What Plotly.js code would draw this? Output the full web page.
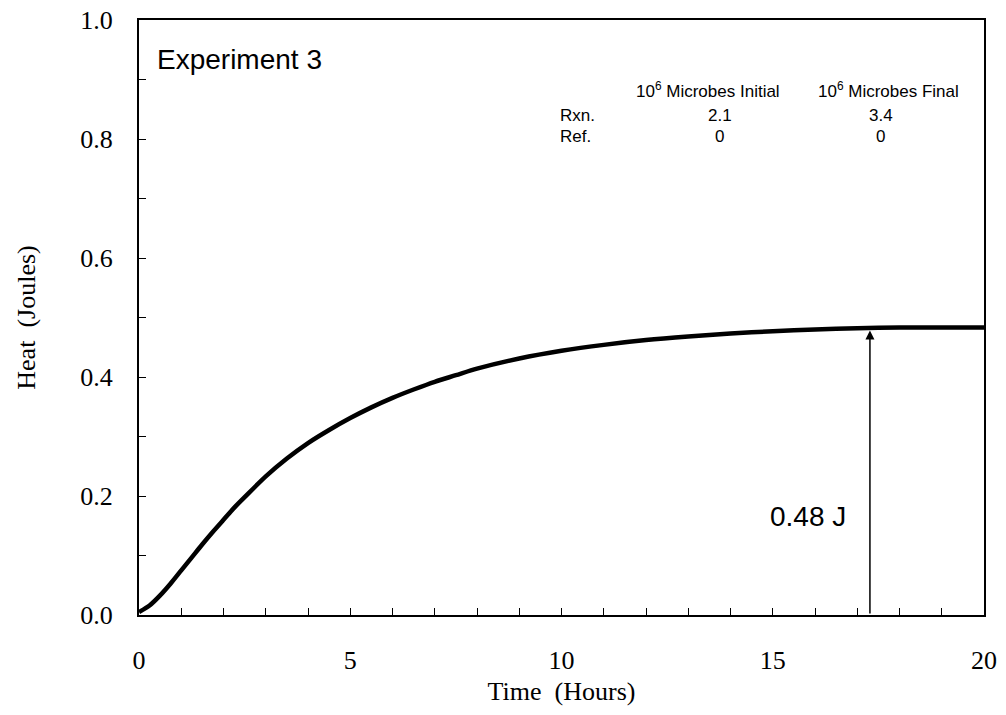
<!DOCTYPE html>
<html>
<head>
<meta charset="utf-8">
<script src="https://cdn.plot.ly/plotly-3.0.1.min.js"></script>
<style>
html,body{margin:0;padding:0;background:#fff;}
#chart{width:1006px;height:715px;}
</style>
</head>
<body>
<div id="chart"></div>
<script>
// Data
const timeHours = [0, 0.25, 0.5, 0.75, 1.0, 1.25, 1.5, 1.75, 2.0, 2.25, 2.5, 3.0, 3.5, 4.0, 4.5, 5.0, 5.5, 6.0, 6.5, 7.0, 7.5, 8.0, 9.0, 10.0, 11.0, 12.0, 13.0, 14.0, 15.0, 16.0, 17.0, 18.0, 19.0, 20.0];
const heatJoules = [0.005, 0.016, 0.033, 0.053, 0.075, 0.097, 0.119, 0.140, 0.160, 0.180, 0.198, 0.233, 0.263, 0.289, 0.311, 0.331, 0.349, 0.365, 0.379, 0.392, 0.403, 0.414, 0.431, 0.444, 0.454, 0.462, 0.468, 0.473, 0.477, 0.480, 0.482, 0.483, 0.483, 0.483];

const panelTitle = "Experiment 3";
const tableHeaders = ["10<sup>6</sup> Microbes Initial", "10<sup>6</sup> Microbes Final"];
const tableRows = ["Rxn.", "Ref."];
const initialCounts = ["2.1", "0"];
const finalCounts = ["3.4", "0"];
const markerTime = 17.3;
const markerHeat = 0.478;
const markerLabel = "0.48 J";

const serif = "Liberation Serif, Times New Roman, serif";
const sans = "Liberation Sans, Arial, sans-serif";

const annotations = [];
annotations.push({x: 0.38, y: 0.933, xref: 'x', yref: 'y', text: panelTitle, showarrow: false,
  xanchor: 'left', yanchor: 'middle', font: {family: sans, size: 28, color: '#000'}});
// table
const headerX = [13.47, 17.73];
const valueX = [13.75, 17.56];
const rowY = [0.839, 0.805];
tableHeaders.forEach((h, i) => annotations.push({x: headerX[i], y: 0.882, xref: 'x', yref: 'y', text: h,
  showarrow: false, xanchor: 'center', yanchor: 'middle', font: {family: sans, size: 17, color: '#000'}}));
tableRows.forEach((r, j) => {
  annotations.push({x: 9.92, y: rowY[j], xref: 'x', yref: 'y', text: r, showarrow: false,
    xanchor: 'left', yanchor: 'middle', font: {family: sans, size: 17, color: '#000'}});
  annotations.push({x: valueX[0], y: rowY[j], xref: 'x', yref: 'y', text: initialCounts[j], showarrow: false,
    xanchor: 'center', yanchor: 'middle', font: {family: sans, size: 17, color: '#000'}});
  annotations.push({x: valueX[1], y: rowY[j], xref: 'x', yref: 'y', text: finalCounts[j], showarrow: false,
    xanchor: 'center', yanchor: 'middle', font: {family: sans, size: 17, color: '#000'}});
});
// arrow
annotations.push({x: markerTime, y: markerHeat, ax: markerTime, ay: 0, xref: 'x', yref: 'y', axref: 'x', ayref: 'y',
  text: '', showarrow: true, arrowhead: 2, arrowsize: 1.2, arrowwidth: 1.5, arrowcolor: '#000'});
annotations.push({x: 15.83, y: 0.166, xref: 'x', yref: 'y', text: markerLabel, showarrow: false,
  xanchor: 'center', yanchor: 'middle', font: {family: sans, size: 28, color: '#000'}});

const trace = {
  x: timeHours, y: heatJoules, type: 'scatter', mode: 'lines',
  line: {color: '#000', width: 4.5, shape: 'spline', smoothing: 0.8}, hoverinfo: 'skip'
};

const layout = {
  width: 1006, height: 715,
  margin: {l: 139, r: 22, t: 20, b: 100},
  paper_bgcolor: '#fff', plot_bgcolor: '#fff',
  showlegend: false,
  xaxis: {
    range: [0, 20], dtick: 5, tick0: 0, showgrid: false, zeroline: false,
    showline: true, linecolor: '#000', linewidth: 2, mirror: true,
    ticks: 'inside', ticklen: 7, tickwidth: 1, tickcolor: '#000',
    minor: {dtick: 1, ticks: 'inside', ticklen: 7, tickwidth: 1, tickcolor: '#000', showgrid: false},
    tickfont: {family: serif, size: 26, color: '#000'},
    ticklabelstandoff: 21,
    title: {text: 'Time  (Hours)', font: {family: serif, size: 26, color: '#000'}, standoff: 8}
  },
  yaxis: {
    range: [0, 1], dtick: 0.2, tick0: 0, tickformat: '.1f', showgrid: false, zeroline: false,
    showline: true, linecolor: '#000', linewidth: 2, mirror: true,
    ticks: 'inside', ticklen: 7, tickwidth: 1, tickcolor: '#000',
    minor: {dtick: 0.1, ticks: 'inside', ticklen: 7, tickwidth: 1, tickcolor: '#000', showgrid: false},
    tickfont: {family: serif, size: 26, color: '#000'},
    ticklabelstandoff: 19,
    title: {text: 'Heat  (Joules)', font: {family: serif, size: 26, color: '#000'}, standoff: 37}
  },
  annotations: annotations
};

Plotly.newPlot('chart', [trace], layout, {displayModeBar: false, staticPlot: true});
</script>
</body>
</html>
